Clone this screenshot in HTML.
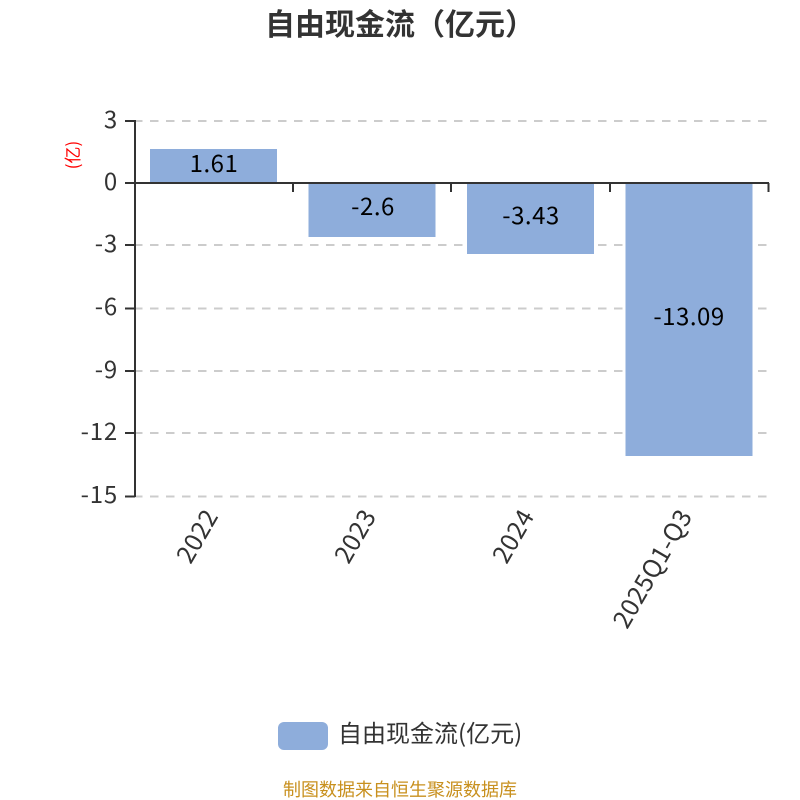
<!DOCTYPE html>
<html>
<head>
<meta charset="utf-8">
<style>
html,body{margin:0;padding:0;background:#fff}
svg{display:block}
text{font-family:"Noto Sans CJK SC","Liberation Sans",sans-serif}
</style>
</head>
<body>
<svg width="800" height="800" viewBox="0 0 800 800" xmlns="http://www.w3.org/2000/svg">
<text x="400" y="35" font-size="30" font-weight="700" fill="#333" text-anchor="middle">自由现金流（亿元）</text>
<g stroke="#ccc" stroke-width="2" stroke-dasharray="8.500 7.500" fill="none">
<path d="M134 121H767"/><path d="M134 245H767"/><path d="M134 308.500H767"/><path d="M134 371H767"/><path d="M134 433H767"/><path d="M134 496.500H767"/>
</g>
<g fill="#8eaddb">
<rect x="150" y="149" width="127" height="34"/>
<rect x="308.500" y="183" width="127" height="54"/>
<rect x="467" y="183" width="127" height="71"/>
<rect x="625.500" y="183" width="127" height="273"/>
</g>
<g stroke="#333" stroke-width="2" fill="none">
<path d="M135 120V497"/>
<path d="M125 121H135M125 183H135M125 245H135M125 308.500H135M125 371H135M125 433H135M125 496.500H135"/>
<path d="M135 183H769"/>
<path d="M293 183V192M451 183V192M610 183V192M768.500 183V192"/>
</g>
<g font-size="24" fill="#333" text-anchor="end" letter-spacing="0.8">
<text x="118" y="128">3</text>
<text x="118" y="190">0</text>
<text x="118" y="252">-3</text>
<text x="118" y="315">-6</text>
<text x="118" y="378">-9</text>
<text x="118" y="440">-12</text>
<text x="118" y="503">-15</text>
</g>
<text transform="translate(79,155) rotate(-90)" font-size="17" fill="#f00" text-anchor="middle">(亿)</text>
<g font-size="24" fill="#000" text-anchor="middle" letter-spacing="0.5">
<text x="214" y="172">1.61</text>
<text x="373" y="215">-2.6</text>
<text x="531" y="224">-3.43</text>
<text x="689" y="325">-13.09</text>
</g>
<g font-size="25" fill="#333" text-anchor="end" letter-spacing="0.3">
<text transform="translate(219,516) rotate(-60)">2022</text>
<text transform="translate(377,516) rotate(-60)">2023</text>
<text transform="translate(535,516) rotate(-60)">2024</text>
<text transform="translate(693,516) rotate(-60)">2025Q1-Q3</text>
</g>
<rect x="278" y="722" width="50" height="28" rx="6" ry="6" fill="#8eaddb"/>
<text x="338" y="742" font-size="24" fill="#333">自由现金流(亿元)</text>
<text x="400" y="796" font-size="18" fill="#c8901e" text-anchor="middle">制图数据来自恒生聚源数据库</text>
</svg>
</body>
</html>
